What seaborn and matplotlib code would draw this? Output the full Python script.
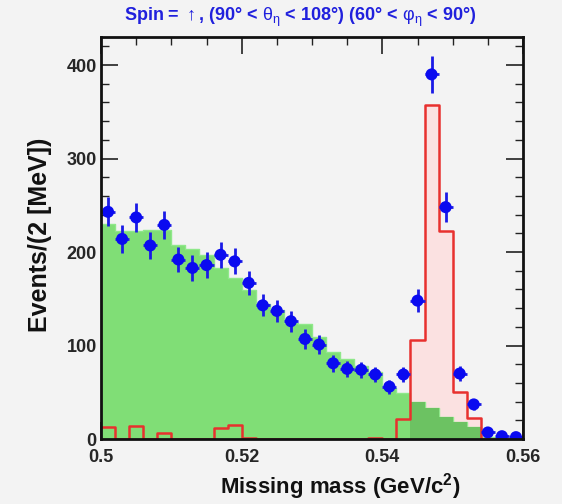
import numpy as np
import pandas as pd
import matplotlib
matplotlib.use("Agg")
import matplotlib.pyplot as plt
import seaborn as sns
from matplotlib.ticker import MultipleLocator

sns.set_theme(style="ticks")
plt.rcParams['font.family'] = ['Liberation Sans', 'DejaVu Sans']
plt.rcParams['mathtext.fontset'] = 'custom'
plt.rcParams['mathtext.rm'] = 'Liberation Sans'
plt.rcParams['mathtext.it'] = 'Liberation Sans:italic'
plt.rcParams['mathtext.bf'] = 'Liberation Sans:bold'

# ---- data (2 MeV bins from 0.500 to 0.560 GeV/c^2) ----
mass_range = (0.500, 0.560)
n_bins = 30
bin_centers = np.round(np.linspace(0.501, 0.559, n_bins), 4)

data_counts = [243, 214, 237, 207, 229, 192, 183, 186, 197, 190,
               167, 143, 137, 126, 107, 101, 81, 75, 74, 69,
               56, 69, 148, 390, 248, 70, 37, 7, 3, 2]

background_mc = [230, 222, 222, 223.5, 223.5, 208, 203, 197, 182.5, 172,
                 159, 144, 138, 124, 123.5, 109, 93, 86, 78, 72,
                 55, 49, 40, 33, 24, 18.5, 13, 2.5, 1, 0.5]

signal_mc = [12.5, 0, 14, 0, 6, 0, 0, 0, 11.5, 15,
             1.5, 0, 0, 0, 0, 0, 0, 0, 0, 1.5,
             0, 21, 106, 357, 223, 50.5, 22, 0, 0, 0]

x_ticks = [0.5, 0.52, 0.54, 0.56]
x_tick_labels = ["0.5", "0.52", "0.54", "0.56"]
y_ticks = [0, 100, 200, 300, 400]

df = pd.DataFrame({"mass": bin_centers, "data": data_counts,
                   "bkg": background_mc, "sig": signal_mc})
# background shown darker where it lies inside the taller signal histogram
df["overlap"] = np.where(df["sig"] > df["bkg"], df["bkg"], 0.0)
df["err"] = np.sqrt(df["data"])

bg = "#f3f3f3"
fig = plt.figure(figsize=(5.62, 5.04), dpi=100, facecolor=bg)
ax = fig.add_axes([101/562, 65/504, 422/562, 402/504])
ax.set_facecolor(bg)

hkw = dict(data=df, x="mass", bins=n_bins, binrange=mass_range, element="step", ax=ax)
sns.histplot(weights="sig", fill=True, color="#fbe1e1", alpha=1,
             linewidth=0, zorder=1, **hkw)
sns.histplot(weights="bkg", fill=True, color="#80de76", alpha=1,
             edgecolor="#8fe88a", linewidth=1.0, zorder=2, **hkw)
sns.histplot(weights="overlap", fill=True, color="#6cc262", alpha=1,
             linewidth=0, zorder=3, **hkw)
sns.histplot(weights="sig", fill=False, color="#e8302e", linewidth=1.8,
             zorder=4, **hkw)

ax.errorbar(df["mass"], df["data"], yerr=df["err"], xerr=0.001, fmt="none",
            ecolor="#1a1ae6", elinewidth=2.0, capsize=0, zorder=5)
sns.scatterplot(data=df, x="mass", y="data", color="#0a0af0", s=75,
                edgecolor="none", ax=ax, zorder=6)

ax.set_xlim(*mass_range)
ax.set_ylim(0, 430)
ax.set_xlabel("")
ax.set_ylabel("")
ax.set_xticks(x_ticks)
ax.set_xticklabels(x_tick_labels)
ax.set_yticks(y_ticks)
ax.xaxis.set_minor_locator(MultipleLocator(0.005))
ax.yaxis.set_minor_locator(MultipleLocator(20))
ax.tick_params(which="both", direction="in", top=True, right=True, color="#222222")
ax.tick_params(which="major", length=12, width=1.2, labelsize=13)
ax.tick_params(which="minor", length=6, width=1.0)
ax.tick_params(axis="x", pad=7)
ax.tick_params(axis="y", pad=3)
for lab in ax.get_xticklabels() + ax.get_yticklabels():
    lab.set_fontweight("bold")
for s in ax.spines.values():
    s.set_linewidth(2)
    s.set_color("#111111")
    s.set_zorder(10)

title = (r"Spin = $\mathrm{\uparrow}$, (90° < $\mathrm{θ}_{\mathrm{η}}$ < 108°) "
         r"(60° < $\mathrm{φ}_{\mathrm{η}}$ < 90°)")
fig.text(300/562, 1 - 17/504, title,
         color="#2020dd", fontsize=13, fontweight="bold", ha="center", va="center")
fig.text(340/562, 1 - 487/504, r"Missing mass (GeV/c$^{\mathbf{2}}$)",
         fontsize=16, fontweight="bold", ha="center", va="center", color="#111111")
fig.text(40/562, 1 - 235/504, "Events/(2 [MeV])", rotation=90,
         fontsize=18, fontweight="bold", ha="center", va="center", color="#111111")

fig.savefig("out.png", dpi=100, facecolor=bg)
